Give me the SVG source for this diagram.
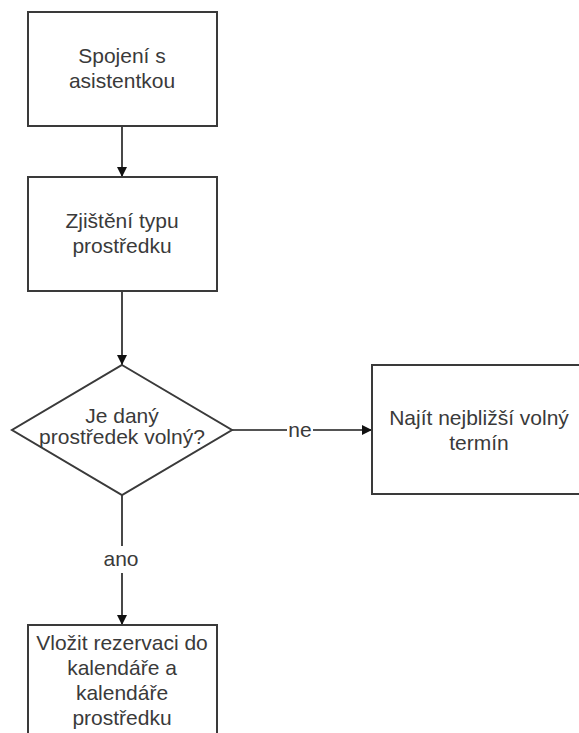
<svg xmlns="http://www.w3.org/2000/svg" width="579" height="733" viewBox="0 0 579 733">
<style>
.box{fill:#fff;stroke:#3a3a3a;stroke-width:2}
.t{font-family:"Liberation Sans",Arial,sans-serif;font-size:21px;fill:#3a3a3a;text-anchor:middle}
.c{stroke:#1a1a1a;stroke-width:1.6;fill:none}
</style>
<defs>
<marker id="ah" markerWidth="10" markerHeight="10" refX="10" refY="5" orient="auto" markerUnits="userSpaceOnUse">
<path d="M0,0 L10,5 L0,10 Z" fill="#111"/>
</marker>
</defs>
<rect width="579" height="733" fill="#fff"/>
<g id="connectors">
<line class="c" x1="122" y1="126" x2="122" y2="177" marker-end="url(#ah)"/>
<line class="c" x1="122" y1="291" x2="122" y2="365" marker-end="url(#ah)"/>
<line class="c" x1="232" y1="430" x2="287" y2="430"/>
<line class="c" x1="313" y1="430" x2="372" y2="430" marker-end="url(#ah)"/>
<line class="c" x1="122" y1="495" x2="122" y2="546"/>
<line class="c" x1="122" y1="573" x2="122" y2="625" marker-end="url(#ah)"/>
<text class="t" x="300" y="437">ne</text>
<text class="t" x="121" y="566">ano</text>
</g>
<g id="n1">
<rect class="box" x="28" y="12" width="189" height="114"/>
<text class="t" x="122" y="63">Spojení s</text>
<text class="t" x="122" y="88">asistentkou</text>
</g>
<g id="n2">
<rect class="box" x="28" y="177" width="189" height="114"/>
<text class="t" x="122" y="228">Zjištění typu</text>
<text class="t" x="122" y="253">prostředku</text>
</g>
<g id="n3">
<polygon class="box" points="122,365 232,430 122,495 12,430"/>
<text class="t" x="122" y="423">Je daný</text>
<text class="t" x="122" y="444">prostředek volný?</text>
</g>
<g id="n4">
<rect class="box" x="372" y="365" width="214" height="129"/>
<text class="t" x="479" y="425">Najít nejbližší volný</text>
<text class="t" x="479" y="450">termín</text>
</g>
<g id="n5">
<rect class="box" x="28" y="625" width="189" height="120"/>
<text class="t" x="122" y="650">Vložit rezervaci do</text>
<text class="t" x="122" y="675">kalendáře a</text>
<text class="t" x="122" y="700">kalendáře</text>
<text class="t" x="122" y="725">prostředku</text>
</g>
</svg>
